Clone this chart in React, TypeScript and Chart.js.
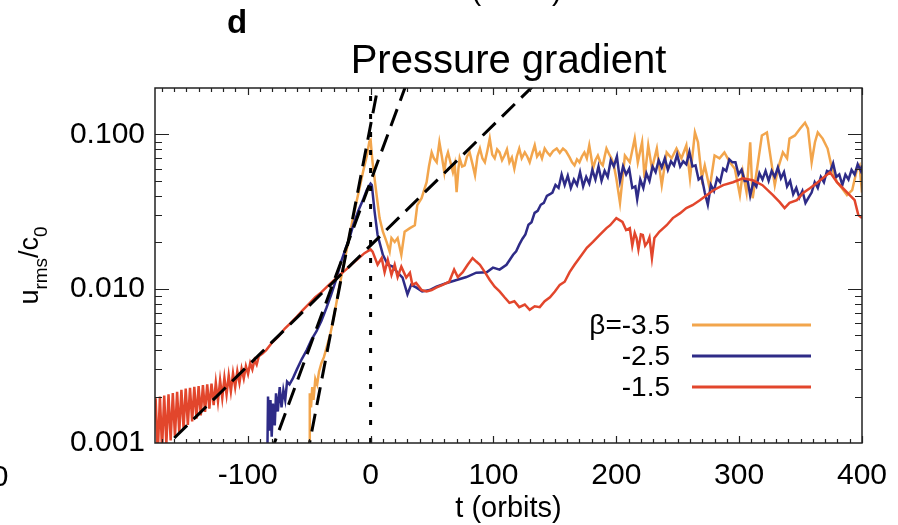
import React, { useEffect, useRef } from 'react';
import { Chart, registerables } from 'chart.js';

Chart.register(...registerables);

const FONT = "'Liberation Sans', Arial, Helvetica, sans-serif";

const X_MIN = -175.5;
const X_MAX = 400;
const Y_MIN = 0.001;
const Y_MAX = 0.2;
const xTickValues = [-100, 0, 100, 200, 300, 400];
const yTickValues = [0.001, 0.01, 0.1];

const seriesLabels = ['β=-3.5', '-2.5', '-1.5'];
const seriesColors = ['#F2A54C', '#2E2B87', '#E2462C'];

// beta = -3.5 (orange)
const orangeT = [-50, -49.5, -48.5, -47.5, -46.5, -45, -43.5, -42, -40, -38, -36, -33, -30, -27, -24, -21, -18, -15, -12, -9, -6, -3, -1, 0,
  1.6, 4.9, 7.3, 10, 13, 15.5, 17, 19.6, 22, 25, 27.7, 32, 36, 38, 41.5,
  45.6, 47.5, 49.7, 51.5, 53.8, 56, 58, 60, 61.5, 63, 65, 67, 68.5, 70, 71.5, 72.5, 74.5, 76.6, 78.5, 80.6, 83, 85, 87, 89, 91, 93, 95, 97, 99,
  101, 103, 105, 107, 109, 111, 113, 115, 117, 119, 121, 123, 125.5, 127.5, 129.5, 131.5, 133.6, 135.5, 137.7, 139.5, 141.7, 144, 146, 148.5,
  151.5, 154, 156.6, 159, 162, 164, 166, 168, 170, 172, 174, 176, 178, 179.5, 181, 183, 185, 187, 189, 190.5, 192, 194, 196, 198,
  200, 203, 207, 211, 215, 217.5, 221, 223, 226, 229, 233, 237, 241, 245, 249, 253, 257, 260, 264, 266.5, 269.6, 272, 276, 280, 284, 288,
  292.5, 296.5, 300.6, 303, 306, 309, 311, 315, 318.5, 322.6, 325, 329, 331.6, 335.6, 339, 341, 345.4, 349.5, 353.6, 356, 359, 361.7, 364,
  368, 372, 375.6, 379.6, 383.7, 387.8, 392, 396, 398, 400];
const orangeV = [0.0009, 0.0021, 0.0017, 0.0023, 0.0019, 0.0026, 0.0024, 0.0029, 0.0033, 0.0036, 0.0041, 0.005, 0.0065, 0.0088, 0.0118, 0.0155, 0.0205, 0.027, 0.035, 0.045, 0.058, 0.073, 0.09, 0.092,
  0.066, 0.0404, 0.0287, 0.0234, 0.0201, 0.0174, 0.0213, 0.0201, 0.0213, 0.0166, 0.0234, 0.0247, 0.0258, 0.0348, 0.0386,
  0.049, 0.062, 0.0765, 0.07, 0.066, 0.089, 0.072, 0.0569, 0.07, 0.0765, 0.066, 0.0569, 0.064, 0.0422, 0.06, 0.07, 0.062, 0.063, 0.072, 0.0765, 0.064, 0.0544, 0.072, 0.081, 0.07, 0.066, 0.078, 0.094, 0.074,
  0.07, 0.08, 0.0765, 0.068, 0.073, 0.08, 0.066, 0.071, 0.06, 0.072, 0.081, 0.07, 0.0765, 0.072, 0.066, 0.075, 0.085, 0.072, 0.0765, 0.07, 0.081, 0.076, 0.073, 0.078,
  0.081, 0.076, 0.081, 0.078, 0.071, 0.066, 0.063, 0.069, 0.066, 0.072, 0.0765, 0.07, 0.085, 0.072, 0.06, 0.068, 0.073, 0.066, 0.063, 0.072, 0.081, 0.075, 0.07, 0.063,
  0.052, 0.036, 0.073, 0.066, 0.094, 0.066, 0.089, 0.052, 0.085, 0.06, 0.081, 0.0469, 0.0765, 0.07, 0.081, 0.07, 0.085, 0.052, 0.103, 0.089, 0.052, 0.063, 0.0448, 0.073, 0.07, 0.0765,
  0.066, 0.06, 0.0404, 0.0569, 0.0422, 0.089, 0.0386, 0.063, 0.0985, 0.103, 0.0765, 0.0469, 0.06, 0.0765, 0.07, 0.094, 0.0985, 0.109, 0.119, 0.109, 0.066, 0.089, 0.103,
  0.094, 0.081, 0.06, 0.049, 0.0448, 0.0404, 0.0435, 0.06, 0.063, 0.042];

// beta = -2.5 (blue)
const blueT = [-84, -83.5, -82.5, -81.5, -80.5, -79.5, -78, -77, -75.5, -74, -72.5, -71, -69.5, -68, -66, -63.5, -60, -56, -52, -48, -44, -40, -36, -32, -28, -24, -20, -17, -14, -10, -6, -3, 0,
  1, 3.3, 5.7, 10, 14, 18, 22, 26, 30, 33, 37, 42, 48, 53.6, 62, 70, 78, 86, 94.5, 99.6, 105, 110.6,
  116, 118.5, 121, 123.5, 126, 128.5, 131, 133.5, 136, 138.5, 141, 143.5, 146, 148,
  150.5, 153, 155.5, 158, 160.5, 163, 165.5, 168, 170.5, 173, 175.5, 178, 180.5, 183, 185.5, 188, 190.5, 193, 195.5, 198,
  200.5, 203, 205.5, 208, 210.5, 213, 215.5, 217, 219.5, 222, 224.5, 227, 229.5, 232, 234.5, 237, 239.5, 242, 244.5, 247, 249.5,
  252, 254.5, 257, 259.5, 262, 264.5, 267, 269.5, 272, 274.5, 277, 279.5, 282, 284.5, 287, 289.5, 292, 294.5, 297, 299.5,
  302, 304.5, 307, 309, 311.5, 314, 316.5, 319, 321.5, 324, 326.5, 329, 331.5, 334, 336.5, 339, 341.5, 344, 346.5, 349,
  351.5, 354, 356.5, 359, 361.5, 364, 366.5, 369, 371.5, 374, 376.5, 379, 381.5, 384, 386.5, 389, 391.5, 394, 396.5, 399, 400];
const blueV = [0.0009, 0.002, 0.0012, 0.0019, 0.0011, 0.0018, 0.0013, 0.0021, 0.0016, 0.0023, 0.0017, 0.0022, 0.0019, 0.0025, 0.0024, 0.0026, 0.003, 0.0035, 0.004, 0.0047, 0.0053, 0.0062, 0.0075, 0.0092, 0.0115, 0.015, 0.0185, 0.0215, 0.026, 0.032, 0.038, 0.044, 0.048,
  0.047, 0.0314, 0.0223, 0.0166, 0.0143, 0.0139, 0.0127, 0.0118, 0.0092, 0.0106, 0.0102, 0.0096, 0.0098, 0.0103, 0.0109, 0.0114, 0.0119, 0.0127, 0.0128, 0.0137, 0.0133, 0.0143,
  0.0166, 0.0175, 0.0193, 0.021, 0.0225, 0.026, 0.027, 0.031, 0.032, 0.035, 0.036, 0.04, 0.041, 0.042,
  0.047, 0.045, 0.055, 0.047, 0.054, 0.045, 0.051, 0.047, 0.057, 0.046, 0.053, 0.048, 0.059, 0.051, 0.062, 0.05, 0.058, 0.053, 0.068, 0.062,
  0.072, 0.05, 0.062, 0.055, 0.06, 0.045, 0.046, 0.038, 0.051, 0.045, 0.056, 0.05, 0.062, 0.057, 0.068, 0.061, 0.07, 0.059, 0.067, 0.063, 0.074,
  0.062, 0.067, 0.064, 0.077, 0.062, 0.063, 0.051, 0.053, 0.042, 0.035, 0.047, 0.043, 0.052, 0.049, 0.06, 0.058, 0.069, 0.066, 0.066, 0.055,
  0.059, 0.05, 0.05, 0.04, 0.049, 0.046, 0.056, 0.051, 0.058, 0.05, 0.058, 0.053, 0.061, 0.052, 0.057, 0.046, 0.05, 0.041, 0.045, 0.039,
  0.043, 0.036, 0.039, 0.042, 0.049, 0.045, 0.053, 0.049, 0.058, 0.057, 0.065, 0.053, 0.055, 0.047, 0.055, 0.051, 0.059, 0.055, 0.064, 0.058, 0.063];

// beta = -1.5 (red)
const redT = [-175, -173.25, -171.5, -169.75, -168, -166.25, -164.5, -162.75, -161, -159.25, -157.5, -155.75, -154, -152.25, -150.5, -148.75, -147, -145.25, -143.5, -141.75,
  -140, -138.25, -136.5, -134.75, -133, -131.25, -129.5, -127.75, -126, -124.25, -122.5, -120.75, -119, -117.25, -115.5, -113.75, -112, -110.25, -108.5, -106.75,
  -105, -103.25, -101.5, -99.75, -98, -96.25, -94.5, -92.75, -91, -88, -85, -80, -75, -70, -65, -60, -55, -50, -45, -40, -35, -30, -25, -20, -15, -10, -5, 0,
  1.6, 5.7, 9, 11.4, 14, 17, 19.6, 22, 25, 29, 32, 34, 37, 41.5, 45.6, 49.7, 53.8, 58.7, 64, 68, 71, 75, 79, 83, 86, 89, 93, 97, 101, 105, 109, 113, 117, 121, 125.5, 129.5, 133.6, 137.7,
  141.7, 146, 150, 154, 158, 162, 166, 170, 176, 181, 186.5, 192, 195, 200, 205, 208, 211, 213, 215, 216.5, 218, 220, 221.6, 223.5, 225.6, 227, 229, 231, 235, 241, 246, 252, 257, 262,
  268, 273.5, 279, 287, 295, 303, 311, 319, 327.5, 333, 337, 341, 347, 352, 357.6, 363, 368, 374, 379.6, 384.5, 390, 394, 397, 400];
const redV = [0.00195, 0.00085, 0.002, 0.00092, 0.00203, 0.00098, 0.00207, 0.00104, 0.00211, 0.0011, 0.00215, 0.00117, 0.00221, 0.00124, 0.00225, 0.00131, 0.00228, 0.00138, 0.00231, 0.00144,
  0.00234, 0.00151, 0.00237, 0.00159, 0.0024, 0.00167, 0.00243, 0.00176, 0.00246, 0.00186, 0.00255, 0.00196, 0.00265, 0.00206, 0.00274, 0.00216, 0.00283, 0.0023, 0.00292, 0.00245,
  0.00303, 0.00262, 0.00315, 0.0028, 0.0033, 0.003, 0.00345, 0.00322, 0.00365, 0.0038, 0.004, 0.0045, 0.0049, 0.0055, 0.006, 0.0066, 0.0073, 0.008, 0.0088, 0.0095, 0.0104, 0.0113, 0.0123, 0.0133, 0.0145, 0.0157, 0.017, 0.018,
  0.0174, 0.0143, 0.0158, 0.0128, 0.0154, 0.0123, 0.0143, 0.0119, 0.0139, 0.0118, 0.0127, 0.0106, 0.0109, 0.0098, 0.0096, 0.0098, 0.0102, 0.0106, 0.0111, 0.0133, 0.0119, 0.0128, 0.0143, 0.0158, 0.015, 0.0143, 0.0128, 0.0114, 0.0103, 0.0096, 0.0088, 0.0081, 0.0083, 0.0076, 0.0079, 0.0073, 0.0077, 0.0076,
  0.0083, 0.0088, 0.0096, 0.0106, 0.0111, 0.0128, 0.0143, 0.0158, 0.0184, 0.0201, 0.0223, 0.0247, 0.0258, 0.0287, 0.0271, 0.024, 0.0247, 0.019, 0.023, 0.0213, 0.018, 0.0225, 0.0223, 0.019, 0.0201, 0.0215, 0.0158, 0.0213, 0.0234, 0.0258, 0.0287, 0.0309, 0.0333, 0.0348,
  0.0375, 0.0404, 0.0435, 0.0469, 0.049, 0.052, 0.0505, 0.0469, 0.0404, 0.0364, 0.0333, 0.036, 0.0375, 0.0417, 0.0448, 0.0483, 0.052, 0.0569, 0.049, 0.0448, 0.0404, 0.0375, 0.03, 0.0287];

// exponential-growth fits (dashed) and t = 0 marker (dotted)
const fitSteepT = [-52, 8];
const fitSteepV = [0.0008, 0.2466];
const fitMidT = [-82, 30];
const fitMidV = [0.00083, 0.222];
const fitShallowT = [-175.5, 140];
const fitShallowV = [0.000813, 0.2366];
const markerT = [0, 0];
const markerV = [0.001, 0.2];

const pts = (t: number[], v: number[]) => t.map((x, i) => ({ x, y: v[i] }));

const decorPlugin = {
  id: 'decor',
  afterDatasetsDraw(chart: any) {
    const { ctx, chartArea: a, scales } = chart;
    const xs = scales.x;
    const ys = scales.y;
    ctx.save();
    ctx.strokeStyle = '#222';
    ctx.lineWidth = 1.5;
    ctx.strokeRect(a.left, a.top, a.right - a.left, a.bottom - a.top);
    ctx.lineWidth = 1.2;
    ctx.beginPath();
    for (let t = -170; t <= 400; t += 10) {
      if (t < X_MIN) continue;
      const px = Math.round(xs.getPixelForValue(t)) + 0.5;
      const len = t % 100 === 0 ? 7 : 4;
      ctx.moveTo(px, a.bottom);
      ctx.lineTo(px, a.bottom - len);
      ctx.moveTo(px, a.top);
      ctx.lineTo(px, a.top + len);
    }
    for (const d of [0.001, 0.01, 0.1]) {
      for (let m = 1; m <= 9; m++) {
        const v = m * d;
        if (v <= Y_MIN * 1.0001 || v >= Y_MAX * 0.9999) continue;
        const py = Math.round(ys.getPixelForValue(v)) + 0.5;
        const len = m === 1 ? 14 : 7;
        ctx.moveTo(a.left, py);
        ctx.lineTo(a.left + len, py);
        ctx.moveTo(a.right, py);
        ctx.lineTo(a.right - len, py);
      }
    }
    ctx.stroke();
    ctx.restore();
  },
  afterDraw(chart: any) {
    const { ctx, chartArea: a } = chart;
    const cx = (a.left + a.right) / 2;
    ctx.save();
    ctx.fillStyle = '#000';
    ctx.textBaseline = 'alphabetic';

    // panel letter
    ctx.font = `bold 33px ${FONT}`;
    ctx.textAlign = 'left';
    ctx.fillText('d', 227, 33);

    // title
    ctx.font = `40px ${FONT}`;
    ctx.textAlign = 'center';
    ctx.fillText('Pressure gradient', cx, 73);

    // x-axis title
    ctx.font = `29px ${FONT}`;
    ctx.fillText('t (orbits)', cx, 517);
    // cut-off remnants of neighbouring panels
    ctx.fillText('t (orbits)', cx, 0);
    ctx.font = `30px ${FONT}`;
    ctx.fillText('0', 0, 486);

    // y-axis title u_rms / c_0 (rotated)
    const main = `27px ${FONT}`;
    const sub = `19px ${FONT}`;
    const parts: [string, string, number][] = [
      ['u', main, 0],
      ['rms', sub, 9],
      ['/c', main, 0],
      ['0', sub, 9],
    ];
    let total = 0;
    for (const [s, f] of parts) {
      ctx.font = f;
      total += ctx.measureText(s).width;
    }
    ctx.translate(38, (a.top + a.bottom) / 2);
    ctx.rotate(-Math.PI / 2);
    ctx.textAlign = 'left';
    let x = -total / 2;
    for (const [s, f, dy] of parts) {
      ctx.font = f;
      ctx.fillText(s, x, dy);
      x += ctx.measureText(s).width;
    }
    ctx.restore();

    // legend
    ctx.save();
    ctx.font = `28px ${FONT}`;
    ctx.textAlign = 'right';
    ctx.textBaseline = 'middle';
    const rowsY = [325, 356, 387];
    seriesLabels.forEach((lab, i) => {
      ctx.fillStyle = '#000';
      ctx.fillText(lab, 670, rowsY[i] + 1);
      ctx.strokeStyle = seriesColors[i];
      ctx.lineWidth = 3;
      ctx.beginPath();
      ctx.moveTo(692, rowsY[i]);
      ctx.lineTo(811, rowsY[i]);
      ctx.stroke();
    });
    ctx.restore();
  },
};

export default function App() {
  const ref = useRef<HTMLCanvasElement | null>(null);

  useEffect(() => {
    if (!ref.current) return;
    const black = (t: number[], v: number[], dash: number[], order: number) => ({
      data: pts(t, v),
      borderColor: '#000',
      borderWidth: 3,
      borderDash: dash,
      pointRadius: 0,
      fill: false,
      tension: 0,
      clip: 0,
      order,
    });
    const series = (i: number, t: number[], v: number[], order: number) => ({
      label: seriesLabels[i],
      data: pts(t, v),
      borderColor: seriesColors[i],
      borderWidth: 2.5,
      pointRadius: 0,
      fill: false,
      tension: 0,
      clip: 0,
      order,
    });
    const chart = new Chart(ref.current, {
      type: 'line',
      data: {
        datasets: [
          black(fitSteepT, fitSteepV, [18, 9], 0),
          black(fitMidT, fitMidV, [18, 9], 0),
          black(fitShallowT, fitShallowV, [18, 9], 0),
          black(markerT, markerV, [5, 13], 0),
          series(2, redT, redV, 1),
          series(1, blueT, blueV, 2),
          series(0, orangeT, orangeV, 3),
        ] as any,
      },
      options: {
        animation: false,
        responsive: false,
        devicePixelRatio: 1,
        layout: { padding: { top: 88, right: 36, left: 0, bottom: 0 } },
        plugins: { legend: { display: false }, tooltip: { enabled: false }, title: { display: false } },
        scales: {
          x: {
            type: 'linear',
            min: X_MIN,
            max: X_MAX,
            grid: { display: false, drawTicks: false },
            border: { display: false },
            afterBuildTicks: (s: any) => {
              s.ticks = xTickValues.map((value) => ({ value }));
            },
            afterFit: (s: any) => {
              s.height = 82;
              s.paddingLeft = 0;
              s.paddingRight = 0;
            },
            ticks: {
              autoSkip: false,
              maxRotation: 0,
              padding: 15,
              color: '#000',
              font: { family: FONT, size: 30 },
              callback: (v: any) => String(v),
            },
          },
          y: {
            type: 'logarithmic',
            min: Y_MIN,
            max: Y_MAX,
            grid: { display: false, drawTicks: false },
            border: { display: false },
            afterBuildTicks: (s: any) => {
              s.ticks = yTickValues.map((value) => ({ value }));
            },
            afterFit: (s: any) => {
              s.width = 155;
              s.paddingTop = 0;
              s.paddingBottom = 0;
            },
            ticks: {
              autoSkip: false,
              padding: 10,
              color: '#000',
              font: { family: FONT, size: 30 },
              callback: (v: any) => Number(v).toFixed(3),
            },
          },
        },
      },
      plugins: [decorPlugin],
    } as any);
    return () => chart.destroy();
  }, []);

  return (
    <div style={{ position: 'absolute', left: 0, top: 0, width: 898, height: 525, background: '#fff' }}>
      <canvas ref={ref} width={898} height={525} style={{ display: 'block' }} />
    </div>
  );
}
